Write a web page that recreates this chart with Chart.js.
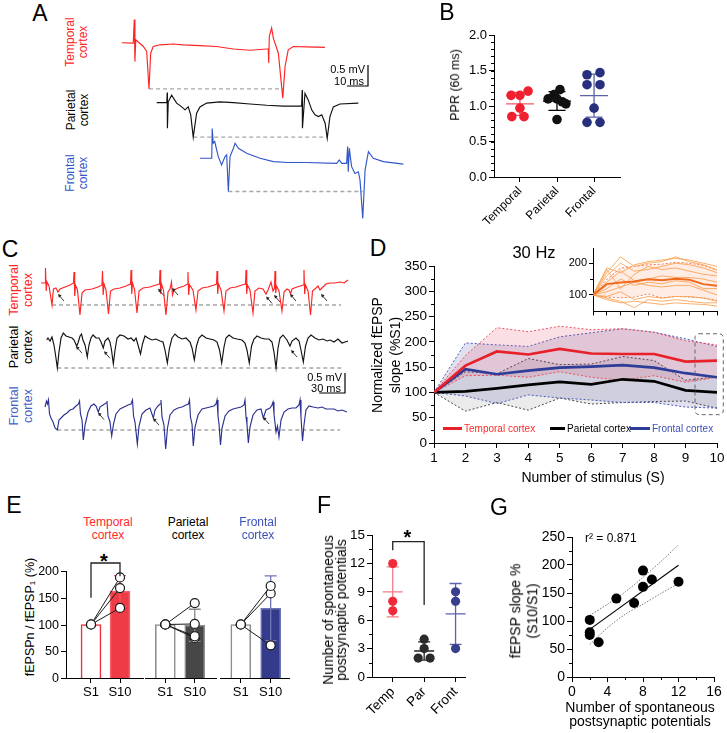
<!DOCTYPE html>
<html>
<head>
<meta charset="utf-8">
<title>Cortical fEPSP figure</title>
<script src="https://cdn.jsdelivr.net/npm/chart.js@4.4.1/dist/chart.umd.min.js"></script>
<style>
  html, body { margin: 0; padding: 0; background: #fff; }
  #fig { position: relative; width: 727px; height: 733px; overflow: hidden; background: #fff;
         font-family: "Liberation Sans", Arial, Helvetica, sans-serif; color: #000; }
  #fig canvas { position: absolute; }
  .lbl { position: absolute; white-space: nowrap; line-height: 1.1; text-align: center; }
</style>
</head>
<body>
<div id="fig"></div>
<script>
// ---------- data ----------

// Panel A: paired pulse traces, [time ms, mV]
const aTemporal = [[0,0],[5.5,-0.01],[6.0,0.55],[6.3,-0.45],[6.7,0.07],[10.3,-0.09],[11.9,-0.21],[13.0,-1.10],[13.8,-0.25],[15.0,-0.09],[18.2,-0.05],[24.6,-0.03],[29.3,-0.05],[37.3,-0.07],[45.2,-0.09],[53.1,-0.15],[61.1,-0.18],[69.0,-0.15],[69.8,-0.15],[70.0,-0.48],[70.3,0.15],[71.4,0.35],[72.2,0.11],[74.6,-0.25],[76.7,-1.32],[77.8,-0.56],[79.3,-0.17],[81.7,-0.09],[88.1,-0.10],[96.8,-0.11]];
const aParietal = [[0,0],[4.8,0],[5.0,0.24],[5.1,-0.61],[5.5,0.02],[7.1,0.18],[9.5,-0.01],[11.9,-0.1],[13.5,-0.17],[15.0,-0.1],[16.2,-0.29],[17.4,-0.82],[19.0,-0.25],[20.6,-0.1],[23.8,-0.01],[30.1,0.02],[36.5,0],[44.4,-0.03],[52.4,-0.06],[60.3,-0.08],[69.0,-0.08],[69.3,0.3],[69.4,-0.61],[70.6,0.22],[72.2,0.06],[73.8,-0.17],[75.4,-0.29],[77.0,-0.33],[78.6,-0.29],[80.2,-0.49],[81.2,-0.85],[82.5,-0.33],[84.1,-0.1],[87.3,-0.03],[96.0,-0.01]];
const aFrontal = [[0,0],[5.6,0],[5.8,0.71],[6.3,0.36],[7.0,0.4],[8.7,0.04],[10.3,-0.16],[11.9,0.04],[12.7,0.08],[13.5,-0.79],[14.3,0.04],[15.9,0.24],[16.7,0.36],[18.3,0.24],[22.2,0.12],[28.6,0],[34.9,-0.08],[42.0,-0.1],[50.0,-0.1],[65.1,-0.12],[66.3,-0.04],[67.5,-0.12],[69.8,-0.12],[70.3,0.28],[70.6,-0.32],[71.1,0.24],[72.2,-0.2],[73.8,-0.36],[75.4,-0.32],[76.2,-0.52],[77.5,-1.43],[78.6,-0.28],[80.2,0.16],[82.5,0],[87.3,-0.08],[96.8,-0.14]];

// Panel B: paired pulse ratio
const pprGroups = ['Temporal', 'Parietal', 'Frontal'];
const pprTemporal = [1.21, 1.15, 1.15, 0.97, 0.85, 0.85];
const pprParietal = [1.23, 1.16, 1.10, 1.10, 1.06, 1.03, 0.81];
const pprFrontal = [1.47, 1.44, 1.30, 1.30, 0.97, 0.77, 0.77];

// Panel C: 30 Hz trains, [time ms, mV]
const cTemporal = [[0,0],[4.7,0],
  [5.2,0.375],[6.1,-0.2],[7.0,0.025],[9.3,-0.075],[12.8,-0.55],[14.5,-0.15],[17.4,-0.125],[19.8,-0.225],[22.1,-0.15],[27.9,-0.1],[33.7,-0.05],[37.8,0],
  [38.4,0.275],[39.2,-0.325],[40.1,-0.05],[42.4,-0.175],[45.3,-0.8],[47.7,-0.25],[51.2,-0.175],[59.3,-0.15],[66.3,-0.1],[70.9,-0.05],
  [71.5,0.3],[72.3,-0.3],[73.3,-0.025],[75.6,-0.175],[78.5,-0.775],[80.8,-0.2],[84.9,-0.15],[91.9,-0.125],[98.8,-0.075],[104.1,-0.025],
  [104.7,0.325],[105.5,-0.275],[106.4,0],[108.7,-0.15],[111.6,-0.75],[114.0,-0.2],[118.6,-0.125],[126.7,-0.1],[133.7,-0.05],[137.8,-0.025],
  [138.4,0.325],[139.2,-0.275],[140.1,-0.025],[142.4,-0.175],[145.3,-0.8],[147.7,-0.225],[150.0,-0.15],[151.7,0.025],[152.9,-0.3],[154.7,-0.175],[159.3,-0.125],[166.3,-0.075],[170.4,-0.025],
  [170.9,0.275],[171.7,-0.3],[172.7,-0.05],[176.7,-0.175],[180.2,-0.675],[182.6,-0.2],[187.2,-0.125],[194.2,-0.1],[201.2,-0.05],[204.1,-0.025],
  [204.7,0.3],[205.5,-0.275],[206.4,-0.025],[209.3,-0.175],[212.8,-0.7],[215.1,-0.2],[219.8,-0.125],[226.7,-0.1],[233.7,-0.05],[237.8,-0.025],
  [238.4,0.325],[239.2,-0.275],[240.1,-0.05],[243.0,-0.175],[246.5,-0.75],[248.8,-0.2],[253.5,-0.125],[258.1,-0.15],[261.6,-0.275],[264.0,-0.175],[267.4,0.025],[269.8,-0.2],[271.5,-0.125],
  [272.1,0.3],[272.9,-0.25],[273.8,-0.075],[276.7,-0.2],[280.2,-0.7],[282.6,-0.225],[286.0,-0.15],[288.4,-0.175],[290.1,-0.275],[291.9,-0.15],[297.7,-0.1],[305.2,-0.05],
  [305.8,0.325],[306.6,-0.275],[307.6,-0.05],[310.5,-0.2],[313.4,-0.8],[315.7,-0.2],[319.8,-0.125],[322.1,-0.075],[324.4,-0.175],[326.7,-0.125],[331.4,-0.025],[336.1,0],[341.9,0],[347.7,0.025],[352.3,0],[357.0,0.075]];
const cParietal = [[6.6,0],[8.1,0.05],[10.5,-0.025],[12.8,0.075],[15.1,-0.125],[16.9,-0.375],[19.0,-0.7],[20.9,-0.3],[23.3,0.05],[25.9,0.175],[29.1,0.1],[32.6,0.075],[36.1,0.05],[38.4,0],[41.5,-0.15],[43.0,-0.075],[45.4,0.1],[47.1,0.15],[48.8,0],[51.2,-0.125],[53.8,-0.425],[55.8,-0.125],[58.1,0.05],[60.5,0.125],[64.0,0.05],[67.4,0.05],[69.8,-0.05],[72.4,-0.2],[74.4,-0.025],[77.9,0.05],[80.2,-0.05],[82.0,-0.25],[84.1,-0.6],[86.1,-0.25],[88.4,0.05],[91.9,0.125],[96.5,0.1],[101.2,0.025],[104.7,0.05],[108.1,-0.025],[110.5,0.05],[112.8,-0.125],[115.7,-0.35],[118.0,-0.1],[120.9,0.1],[124.4,0.05],[129.1,0],[133.7,0.025],[138.4,-0.025],[141.9,-0.05],[144.2,-0.25],[146.9,-0.575],[149.4,-0.2],[152.3,0.05],[155.8,0.15],[159.3,0.075],[164.0,0.025],[168.6,0.05],[173.3,-0.05],[175.6,-0.2],[178.3,-0.5],[180.8,-0.15],[183.7,0.05],[187.2,0.125],[191.9,0.05],[196.5,0.025],[201.2,0],[204.7,-0.05],[207.6,-0.25],[210.1,-0.575],[212.8,-0.175],[215.1,0.05],[218.6,0.125],[223.3,0.05],[227.9,0.025],[233.7,0],[237.2,-0.075],[239.5,-0.25],[242.2,-0.575],[244.8,-0.15],[247.7,0.025],[251.2,0.1],[255.8,0.05],[260.5,0.025],[265.1,0.025],[268.6,-0.05],[270.9,-0.3],[273.3,-0.7],[275.6,-0.2],[277.9,0.05],[281.4,0.125],[286.0,0],[289.5,-0.15],[291.9,-0.025],[296.5,0.05],[300.0,-0.025],[302.3,-0.25],[305.0,-0.55],[307.6,-0.15],[310.5,0.05],[314.0,0.125],[318.6,0.05],[323.3,0],[327.9,0.025],[332.6,-0.025],[336.1,0],[340.7,-0.05],[345.3,0.025],[350.0,-0.075],[357.0,-0.025]];
const cFrontal = [[4.7,0],[6.4,0.15],[7.6,0.075],[8.7,0.175],[9.9,-0.175],[11.6,-0.275],[14.0,-0.375],[16.3,-0.525],[19.0,-0.575],[20.9,-0.325],[23.3,-0.275],[26.7,-0.2],[30.2,-0.15],[33.7,-0.075],[37.2,-0.05],[40.7,0.025],[43.6,0.075],[44.8,0.15],[45.9,-0.175],[47.7,-0.325],[49.2,-0.825],[51.2,-0.45],[54.7,-0.125],[58.1,0.025],[61.6,0.075],[64.0,0.025],[66.6,-0.125],[68.6,0],[72.1,0.05],[75.6,0.1],[76.7,0.15],[77.9,-0.225],[80.2,-0.375],[82.2,-0.725],[84.3,-0.425],[87.2,-0.175],[91.9,-0.05],[96.5,0],[101.2,0.05],[104.7,0.075],[106.4,0.175],[107.6,-0.225],[109.3,-0.375],[112.0,-0.925],[114.0,-0.475],[117.4,-0.175],[122.1,-0.075],[126.7,-0.025],[130.6,-0.275],[132.6,-0.075],[136.0,0.025],[138.4,0.075],[139.5,0.175],[140.7,-0.25],[143.0,-0.45],[145.0,-1.05],[147.1,-0.525],[150.0,-0.2],[154.7,-0.075],[159.3,-0.025],[164.0,0],[168.6,0.05],[171.5,0.075],[172.7,0.175],[173.8,-0.25],[175.6,-0.425],[177.1,-0.975],[179.1,-0.5],[182.6,-0.2],[187.2,-0.05],[191.9,-0.025],[196.5,0],[201.2,0.025],[203.5,0.075],[204.7,0.175],[205.8,-0.225],[207.0,-0.425],[208.7,-0.95],[210.5,-0.525],[214.0,-0.225],[218.6,-0.1],[223.3,-0.05],[227.9,-0.025],[232.6,0],[236.0,0.05],[237.2,0.175],[238.4,-0.25],[239.5,-0.425],[241.1,-0.9],[243.0,-0.5],[246.5,-0.2],[251.2,-0.075],[255.8,-0.05],[258.5,-0.275],[261.6,-0.075],[266.3,-0.025],[268.6,0.05],[269.8,0.125],[270.9,-0.175],[273.3,-0.625],[275.0,-0.475],[276.7,-0.75],[279.1,-0.325],[282.6,-0.125],[287.2,-0.05],[291.9,-0.025],[296.5,-0.025],[300.0,0.05],[301.2,0.175],[302.3,-0.25],[304.1,-0.85],[305.8,-0.45],[308.1,-0.075],[311.6,0.025],[316.3,0],[322.1,-0.025],[326.7,0],[331.4,-0.05],[336.1,-0.05],[340.7,-0.05],[345.3,-0.1],[350.0,-0.075],[355.8,-0.125]];
// spontaneous potentials marked with arrows (ms)
const cTemporalArrows = [18.6, 134.9, 151.2, 260.5, 269.8, 288.4, 324.4];
const cParietalArrows = [39.5, 72.1, 289.5];
const cFrontalArrows = [65.1, 129.1, 257.0];

// Panel D: normalized fEPSP slope (%S1), mean and +/- SD
const stimN = [1, 2, 3, 4, 5, 6, 7, 8, 9, 10];
const tempMean = [100, 153, 181, 175, 186, 177, 176, 176, 161, 163];
const tempUpper = [100, 173, 228, 220, 231, 224, 226, 219, 202, 194];
const tempLower = [100, 133, 134, 130, 141, 130, 124, 133, 120, 130];
const parMean = [100, 102, 108, 115, 121, 116, 126, 122, 104, 100];
const parUpper = [100, 141, 137, 167, 155, 156, 171, 163, 124, 131];
const parLower = [100, 63, 80, 65, 89, 77, 80, 82, 83, 69];
const frontMean = [100, 146, 136, 143, 149, 151, 154, 149, 138, 130];
const frontUpper = [100, 198, 194, 191, 210, 218, 226, 219, 206, 191];
const frontLower = [100, 93, 78, 95, 89, 85, 80, 80, 71, 69];
// inset: individual temporal slices
const insetMean = [100, 134, 139, 142, 149, 146, 151, 148, 134, 129];
const insetUpper = [100, 149, 185, 190, 195, 197, 203, 200, 193, 177];
const insetLower = [100, 93, 91, 93, 103, 91, 95, 93, 91, 83];
const insetSlices = [
  [100, 185, 170, 195, 205, 210, 215, 210, 200, 190],
  [100, 170, 220, 190, 200, 205, 220, 205, 195, 180],
  [100, 160, 200, 175, 180, 190, 200, 195, 185, 170],
  [100, 180, 120, 165, 190, 180, 185, 175, 165, 160],
  [100, 140, 175, 145, 150, 160, 155, 155, 150, 140],
  [100, 120, 150, 130, 140, 135, 145, 140, 120, 120],
  [100, 110, 125, 140, 130, 125, 130, 130, 115, 100],
  [100, 95, 110, 85, 95, 90, 95, 95, 90, 80],
  [100, 90, 80, 60, 85, 80, 85, 80, 75, 75],
  [100, 85, 75, 80, 75, 70, 75, 72, 70, 65],
];
const boxStim = [9.3, 10.2];
const boxSlope = [56, 216];

// Panel E: fEPSPn / fEPSP1 (%)
const eTicks = ['S1', 'S10'];
const eYTicks = [0, 50, 100, 150, 200];
const eTemporalS1 = [100, 100, 100];
const eTemporalS10 = [188, 168, 131];
const eParietalS1 = [100, 100, 100, 100];
const eParietalS10 = [140, 101, 78, 75];
const eFrontalS1 = [100, 100, 100];
const eFrontalS10 = [172, 158, 61];

// Panel F: spontaneous postsynaptic potentials
const fGroups = ['Temp', 'Par', 'Front'];
const fTemp = [12, 8, 7];
const fPar = [4, 3, 2, 2];
const fFront = [9, 8, 3];

// Panel G: correlation
const gSpont = [2, 2, 2, 3, 5, 7, 8, 8, 9, 12];
const gSlope = [102, 80, 75, 62, 140, 132, 190, 161, 174, 170];
const gCiX = [2, 4, 6, 8, 10, 12];
const gCiUpper = [110, 130, 152, 178, 206, 236];
const gCiLower = [58, 88, 112, 130, 149, 167];

// ---------- helpers ----------
const FONT = '"Liberation Sans", Arial, Helvetica, sans-serif';
Chart.defaults.font.family = FONT;
Chart.defaults.color = '#000';

const fig = document.getElementById('fig');

function addCanvas(left, top, w, h) {
  const c = document.createElement('canvas');
  c.width = w; c.height = h;
  c.style.left = left + 'px'; c.style.top = top + 'px';
  c.style.width = w + 'px'; c.style.height = h + 'px';
  fig.appendChild(c);
  return c;
}

function addText(html, x, y, o = {}) {
  const d = document.createElement('div');
  d.className = 'lbl';
  d.innerHTML = html;
  d.style.left = x + 'px';
  d.style.top = y + 'px';
  d.style.fontSize = (o.size || 12) + 'px';
  if (o.color) d.style.color = o.color;
  if (o.lh) d.style.lineHeight = o.lh;
  if (o.bold) d.style.fontWeight = 'bold';
  if (o.z) d.style.zIndex = o.z;
  const ax = o.align === 'left' ? '0' : o.align === 'right' ? '-100%' : '-50%';
  d.style.transform = `translate(${ax}, -50%)` + (o.rot ? ' rotate(-90deg)' : '');
  fig.appendChild(d);
}

function addRule(x, y, w, h) {
  const d = document.createElement('div');
  d.style.cssText = `position:absolute;left:${x}px;top:${y}px;width:${w}px;height:${h}px;background:#000;z-index:20;`;
  fig.appendChild(d);
}

const avg = a => a.reduce((s, v) => s + v, 0) / a.length;
const sdev = a => { const m = avg(a); return Math.sqrt(a.reduce((s, v) => s + (v - m) ** 2, 0) / (a.length - 1)); };

function valueAxis(min, max, step, o) {
  const ax = {
    type: 'linear', min, max,
    border: { display: true, color: '#000', width: 1 },
    grid: { display: true, drawOnChartArea: false, drawTicks: true, tickLength: o.tick ?? 5, tickColor: '#000', offset: false },
    ticks: { stepSize: step, font: { size: o.fs || 13 }, color: '#000', padding: o.pad ?? 2, autoSkip: false,
             maxRotation: o.rotate || 0, minRotation: o.rotate || 0, display: o.labels !== false },
    afterFit: s => { if (o.w !== undefined) s.width = o.w; if (o.h !== undefined) s.height = o.h; },
  };
  if (o.fmt) ax.ticks.callback = o.fmt;
  if (o.at) ax.afterBuildTicks = s => { s.ticks = o.at.map(v => ({ value: v })); };
  return ax;
}

function baseOptions(pad, scales, plugins) {
  return {
    responsive: false, animation: false, devicePixelRatio: 1,
    layout: { padding: pad },
    scales,
    plugins: Object.assign({ legend: { display: false }, tooltip: { enabled: false } }, plugins || {}),
  };
}

// small tick marks between the labelled ones
const minorTicks = {
  id: 'minorTicks',
  afterDraw(chart, args, opts) {
    const ctx = chart.ctx;
    ctx.save();
    ctx.strokeStyle = '#000';
    ctx.lineWidth = 1;
    (opts.list || []).forEach(m => {
      const s = chart.scales[m.axis];
      const n = Math.round((m.to - m.from) / m.step);
      for (let i = 0; i <= n; i++) {
        const p = Math.round(s.getPixelForValue(m.from + i * m.step)) + 0.5;
        ctx.beginPath();
        if (s.isHorizontal()) { ctx.moveTo(p, s.top); ctx.lineTo(p, s.top + m.len); }
        else { ctx.moveTo(s.right, p); ctx.lineTo(s.right - m.len, p); }
        ctx.stroke();
      }
    });
    ctx.restore();
  }
};

// mean +/- SD bars for dot plots
function meanSdPlugin(groups, colors, meanW, capW) {
  return {
    id: 'meanSd',
    beforeDatasetsDraw(chart) {
      const { ctx } = chart;
      const { x, y } = chart.scales;
      groups.forEach((vals, g) => {
        const m = avg(vals), s = sdev(vals);
        const px = x.getPixelForValue(g + 1);
        ctx.save();
        ctx.strokeStyle = colors[g];
        ctx.lineWidth = 1.3;
        ctx.beginPath();
        ctx.moveTo(px, y.getPixelForValue(m - s)); ctx.lineTo(px, y.getPixelForValue(m + s));
        [m - s, m + s].forEach(v => { const py = y.getPixelForValue(v); ctx.moveTo(px - capW / 2, py); ctx.lineTo(px + capW / 2, py); });
        const pm = y.getPixelForValue(m);
        ctx.moveTo(px - meanW / 2, pm); ctx.lineTo(px + meanW / 2, pm);
        ctx.stroke();
        ctx.restore();
      });
    }
  };
}

// significance bracket, drawn in data units
function bracketPlugin(xs, yLeft, yTop, yRight) {
  return {
    id: 'bracket',
    afterDraw(chart) {
      const { ctx } = chart;
      const { x, y } = chart.scales;
      const x1 = x.getPixelForValue(xs[0]), x2 = x.getPixelForValue(xs[1]);
      ctx.save();
      ctx.strokeStyle = '#222';
      ctx.lineWidth = 1.3;
      ctx.beginPath();
      ctx.moveTo(x1, y.getPixelForValue(yLeft));
      ctx.lineTo(x1, y.getPixelForValue(yTop));
      ctx.lineTo(x2, y.getPixelForValue(yTop));
      ctx.lineTo(x2, y.getPixelForValue(yRight));
      ctx.stroke();
      ctx.restore();
    }
  };
}

// L-shaped scale bar for the traces
const scaleBar = {
  id: 'scaleBar',
  afterDraw(chart, args, o) {
    if (!o.corner) return;
    const { ctx } = chart;
    const { x, y } = chart.scales;
    const w = x.getPixelForValue(o.ms) - x.getPixelForValue(0);
    const h = y.getPixelForValue(0) - y.getPixelForValue(o.mv);
    const [cx, cy] = o.corner;
    ctx.save();
    ctx.strokeStyle = '#000';
    ctx.lineWidth = 1.2;
    ctx.beginPath();
    ctx.moveTo(cx - w, cy); ctx.lineTo(cx, cy); ctx.lineTo(cx, cy - h);
    ctx.stroke();
    ctx.restore();
  }
};

// arrows pointing at spontaneous potentials
function interp(pts, t) {
  for (let i = 1; i < pts.length; i++) {
    if (pts[i].x >= t) {
      const a = pts[i - 1], b = pts[i];
      return a.y + (b.y - a.y) * (t - a.x) / (b.x - a.x);
    }
  }
  return pts[pts.length - 1].y;
}
const arrows = {
  id: 'arrows',
  afterDatasetsDraw(chart, args, o) {
    const { ctx } = chart;
    const { x, y } = chart.scales;
    ctx.save();
    ctx.strokeStyle = '#222';
    ctx.fillStyle = '#222';
    ctx.lineWidth = 0.9;
    (o.list || []).forEach(item => {
      const pts = chart.data.datasets[item.ds].data;
      item.times.forEach(t => {
        const px = x.getPixelForValue(t), py = y.getPixelForValue(interp(pts, t));
        const tx = px + 1, ty = py + 4;
        ctx.beginPath(); ctx.moveTo(tx + 6, ty + 7); ctx.lineTo(tx + 1.5, ty + 1.8); ctx.stroke();
        ctx.beginPath(); ctx.moveTo(tx, ty); ctx.lineTo(tx + 3.6, ty + 1.2); ctx.lineTo(tx + 1, ty + 3.8); ctx.closePath(); ctx.fill();
      });
    });
    ctx.restore();
  }
};

const minPt = pts => pts.reduce((m, p) => (p.y < m.y ? p : m), pts[0]);

function traceChart(rect, pxPerMs, pxPerMv, x0, traces, refFn, plugOpts) {
  const cv = addCanvas(...rect);
  const datasets = [];
  traces.forEach(tr => {
    const pts = tr.data.map(p => ({ x: p[0] + tr.dt, y: p[1] + tr.dv }));
    datasets.push({ data: pts, borderColor: tr.color, borderWidth: 1.15, pointRadius: 0 });
    datasets.push({ data: refFn(pts), borderColor: '#a6a6a6', borderWidth: 1.3, borderDash: [4, 3], pointRadius: 0 });
  });
  new Chart(cv, {
    type: 'line',
    data: { datasets },
    options: baseOptions(0, {
      x: { type: 'linear', display: false, min: x0, max: x0 + rect[2] / pxPerMs },
      y: { type: 'linear', display: false, min: -rect[3] / pxPerMv, max: 0 },
    }, plugOpts),
    plugins: [scaleBar, arrows],
  });
}

const RED = '#ff2424', BLUE_A = '#3157c9', NAVY = '#2c3190';

// ---------- Panel A ----------
traceChart([110, 0, 320, 230], 2.1, 42, 0, [
  { data: aTemporal, color: RED, dt: 5.57, dv: -1.017 },
  { data: aParietal, color: '#111', dt: 22.24, dv: -2.445 },
  { data: aFrontal, color: BLUE_A, dt: 42.86, dv: -3.769 },
], pts => {
  const split = pts[0].x + 40;
  const first = minPt(pts.filter(p => p.x < split));
  const second = minPt(pts.filter(p => p.x >= split));
  return [{ x: first.x, y: first.y }, { x: second.x, y: first.y }];
}, { scaleBar: { corner: [258, 86], ms: 10, mv: 0.5 } });

addText('A', 40, 14, { size: 23 });
addText('Temporal<br>cortex', 77, 42, { size: 12, color: RED, rot: true });
addText('Parietal<br>cortex', 78, 110, { size: 12, rot: true });
addText('Frontal<br>cortex', 77, 173, { size: 12, color: BLUE_A, rot: true });
addText('0.5 mV', 365, 69, { size: 11, align: 'right' });
addText('10 ms', 364, 80.5, { size: 11, align: 'right' });

// ---------- Panel C ----------
traceChart([40, 255, 312, 200], 0.86, 40, -1.163, [
  { data: cTemporal, color: RED, dt: 0, dv: -0.7 },
  { data: cParietal, color: '#111', dt: 0, dv: -2.125 },
  { data: cFrontal, color: NAVY, dt: 0, dv: -3.8 },
], pts => {
  const first = minPt(pts.filter(p => p.x < pts[0].x + 25));
  return [{ x: first.x, y: first.y }, { x: pts[pts.length - 1].x - 8, y: first.y }];
}, {
  scaleBar: { corner: [305, 138], ms: 30, mv: 0.5 },
  arrows: { list: [
    { ds: 0, times: cTemporalArrows },
    { ds: 2, times: cParietalArrows },
    { ds: 4, times: cFrontalArrows },
  ] },
});

addText('C', 10, 250, { size: 23 });
addText('Temporal<br>cortex', 22, 290, { size: 12.5, color: RED, rot: true });
addText('Parietal<br>cortex', 22, 347, { size: 12.5, rot: true });
addText('Frontal<br>cortex', 22, 406, { size: 12.5, color: '#4561c4', rot: true });
addText('0.5 mV', 342, 377, { size: 11, align: 'right' });
addText('30 ms', 341, 387.5, { size: 11, align: 'right' });

// ---------- Panel B ----------
(function () {
  const cv = addCanvas(460, 25, 180, 205);
  const groups = [pprTemporal, pprParietal, pprFrontal];
  const jitter = [
    [0.22, -0.24, 0, 0, -0.22, 0.11],
    [0.08, -0.08, -0.24, 0, 0.14, 0.24, 0],
    [0.16, -0.19, -0.19, 0.16, 0, -0.19, 0.16],
  ];
  const dot = ['#ef2030', '#111', '#27307c'];
  const datasets = groups.map((vals, g) => ({
    data: vals.map((v, i) => ({ x: g + 1 + jitter[g][i], y: v })),
    pointRadius: 4.8, pointBackgroundColor: dot[g], pointBorderColor: dot[g], pointBorderWidth: 0,
  }));
  new Chart(cv, {
    type: 'scatter',
    data: { datasets },
    options: baseOptions({ top: 10, right: 20, left: 0, bottom: 0 }, {
      x: valueAxis(0.3, 3.7, 1, { fs: 12, h: 53, at: [1, 2, 3], rotate: 45, fmt: v => pprGroups[v - 1] }),
      y: valueAxis(0, 2, 0.5, { fs: 13, w: 34, fmt: v => v.toFixed(1) }),
    }, { minorTicks: { list: [{ axis: 'y', from: 0, to: 2, step: 0.1, len: 3 }] } }),
    plugins: [minorTicks, meanSdPlugin(groups, ['#f25a63', '#000', '#5a62a8'], 28, 17)],
  });
  addText('B', 447, 13, { size: 23 });
  addText('PPR (60 ms)', 456, 85, { size: 12.5, rot: true });
})();

// ---------- Panel D ----------
(function () {
  const cv = addCanvas(400, 255, 327, 215);
  const xy = arr => stimN.map((n, i) => ({ x: n, y: arr[i] }));
  const mean = (arr, col) => ({ data: xy(arr), borderColor: col, borderWidth: 2.7, pointRadius: 0 });
  const band = (arr, col, fillCol) => ({
    data: xy(arr), borderColor: col, borderWidth: 1, borderDash: [2, 2], pointRadius: 0,
    fill: fillCol ? '+1' : false, backgroundColor: fillCol || 'transparent',
  });
  const datasets = [
    mean(tempMean, '#e8202a'), mean(frontMean, '#2e3d98'), mean(parMean, '#000'),
    band(tempUpper, '#ef5060', 'rgba(225, 60, 85, 0.16)'), band(tempLower, '#ef5060'),
    band(frontUpper, '#4d5cc0', 'rgba(60, 60, 150, 0.16)'), band(frontLower, '#4d5cc0'),
    band(parUpper, '#444', 'rgba(110, 110, 110, 0.14)'), band(parLower, '#444'),
  ];
  const box = {
    id: 'box',
    afterDatasetsDraw(chart) {
      const { ctx } = chart;
      const { x, y } = chart.scales;
      const l = x.getPixelForValue(boxStim[0]), r = x.getPixelForValue(boxStim[1]);
      const t = y.getPixelForValue(boxSlope[1]), b = y.getPixelForValue(boxSlope[0]);
      ctx.save();
      ctx.setLineDash([4, 3]);
      ctx.strokeStyle = '#666';
      ctx.lineWidth = 1;
      ctx.beginPath();
      ctx.roundRect(l, t, r - l, b - t, 4);
      ctx.stroke();
      ctx.restore();
    }
  };
  new Chart(cv, {
    type: 'line',
    data: { datasets },
    options: baseOptions({ top: 11, right: 10, left: 0, bottom: 0 }, {
      x: valueAxis(1, 10, 1, { fs: 13.5, h: 27 }),
      y: valueAxis(0, 350, 50, { fs: 13.5, w: 34 }),
    }, { minorTicks: { list: [{ axis: 'y', from: 25, to: 325, step: 50, len: 3 }] } }),
    plugins: [minorTicks, box],
  });

  // inset
  const iv = addCanvas(560, 240, 167, 80);
  const ids = [
    { data: xy(insetMean), borderColor: '#f06a1e', borderWidth: 2, pointRadius: 0 },
    ...insetSlices.map(s => ({ data: xy(s), borderColor: 'rgba(250, 160, 80, 0.85)', borderWidth: 1, pointRadius: 0 })),
    { data: xy(insetUpper), borderColor: '#f07a55', borderWidth: 1, borderDash: [2, 2], pointRadius: 0, fill: '+1', backgroundColor: 'rgba(250, 185, 160, 0.28)' },
    { data: xy(insetLower), borderColor: '#f07a55', borderWidth: 1, borderDash: [2, 2], pointRadius: 0 },
  ];
  new Chart(iv, {
    type: 'line',
    data: { datasets: ids },
    options: baseOptions({ top: 7, right: 10, left: 0, bottom: 0 }, {
      x: valueAxis(1, 10, 1, { h: 7, labels: false, tick: 4 }),
      y: valueAxis(48, 246, 50, { fs: 11, w: 33, at: [100, 200], tick: 4 }),
    }, { minorTicks: { list: [{ axis: 'y', from: 150, to: 150, step: 50, len: 3 }] } }),
    plugins: [minorTicks],
  });

  addText('D', 378, 249, { size: 23 });
  addText('30 Hz', 534, 252, { size: 16.5 });
  addText('Normalized fEPSP<br>slope (%S1)', 386, 355, { size: 14, rot: true, lh: 1.3 });
  addText('Number of stimulus (S)', 593, 478, { size: 14 });
  // legend
  const leg = [
    { x: 443, w: 19, text: 'Temporal cortex', col: '#e8202a', tcol: '#ff2a2a' },
    { x: 550, w: 15, text: 'Parietal cortex', col: '#000', tcol: '#000' },
    { x: 630, w: 20, text: 'Frontal cortex', col: '#2e3d98', tcol: '#3c50b8' },
  ];
  leg.forEach(l => {
    const d = document.createElement('div');
    d.style.cssText = `position:absolute;left:${l.x}px;top:426.5px;width:${l.w}px;height:3px;background:${l.col};`;
    fig.appendChild(d);
    addText(l.text, l.x + l.w + 2, 428, { size: 10, color: l.tcol, align: 'left' });
  });
})();

// ---------- Panel F ----------
(function () {
  const cv = addCanvas(345, 525, 125, 200);
  const groups = [fTemp, fPar, fFront];
  const jitter = [[0, 0, 0], [0, 0, -0.19, 0.19], [0, 0, 0]];
  const dot = ['#ef2a3a', '#2a2a2a', '#383f8c'];
  const datasets = groups.map((vals, g) => ({
    data: vals.map((v, i) => ({ x: g + 1 + jitter[g][i], y: v })),
    pointRadius: 4.6, pointBackgroundColor: dot[g], pointBorderColor: dot[g], pointBorderWidth: 0,
  }));
  new Chart(cv, {
    type: 'scatter',
    data: { datasets },
    options: baseOptions({ top: 10, right: 5, left: 0, bottom: 0 }, {
      x: valueAxis(0.34, 3.3, 1, { fs: 13.5, h: 48, at: [1, 2, 3], rotate: 45, fmt: v => fGroups[v - 1] }),
      y: valueAxis(0, 15, 3, { fs: 13.5, w: 27 }),
    }, { minorTicks: { list: [{ axis: 'y', from: 1.5, to: 13.5, step: 3, len: 3 }] } }),
    plugins: [minorTicks, meanSdPlugin(groups, ['#f27c84', '#222', '#5c62aa'], 20, 12), bracketPlugin([1, 2], 13.4, 14.3, 7.6)],
  });
  addText('F', 324, 506, { size: 23 });
  addText('Number of spontaneous<br>postsynaptic potentials', 334.5, 610, { size: 14, rot: true, lh: 0.93 });
  addText('*', 407.5, 536.5, { size: 20, bold: true });
})();

// ---------- Panel G ----------
(function () {
  const cv = addCanvas(530, 525, 197, 180);
  // least squares line through the points
  const mx = avg(gSpont), my = avg(gSlope);
  let sxy = 0, sxx = 0;
  gSpont.forEach((x, i) => { sxy += (x - mx) * (gSlope[i] - my); sxx += (x - mx) ** 2; });
  const slope = sxy / sxx, icpt = my - slope * mx;
  const x1 = Math.min(...gSpont), x2 = Math.max(...gSpont);
  const datasets = [
    { data: gSpont.map((x, i) => ({ x, y: gSlope[i] })), showLine: false, pointRadius: 5, pointBackgroundColor: '#000', pointBorderColor: '#000', pointBorderWidth: 0 },
    { data: [{ x: x1, y: icpt + slope * x1 }, { x: x2, y: icpt + slope * x2 }], borderColor: '#000', borderWidth: 1.1, pointRadius: 0 },
    { data: gCiX.map((x, i) => ({ x, y: gCiUpper[i] })), borderColor: '#777', borderWidth: 1, borderDash: [1.5, 1.5], pointRadius: 0, tension: 0.3 },
    { data: gCiX.map((x, i) => ({ x, y: gCiLower[i] })), borderColor: '#777', borderWidth: 1, borderDash: [1.5, 1.5], pointRadius: 0, tension: 0.3 },
  ];
  new Chart(cv, {
    type: 'line',
    data: { datasets },
    options: baseOptions({ top: 12, right: 13, left: 0, bottom: 0 }, {
      x: valueAxis(0, 16, 4, { fs: 14, h: 28 }),
      y: valueAxis(0, 250, 50, { fs: 14, w: 42 }),
    }, { minorTicks: { list: [
      { axis: 'y', from: 25, to: 225, step: 50, len: 3 },
      { axis: 'x', from: 2, to: 14, step: 4, len: 3 },
    ] } }),
    plugins: [minorTicks],
  });
  addText('G', 499, 508, { size: 23 });
  addText('r² = 0.871', 585, 539, { size: 12, align: 'left' });
  addText('fEPSP slope %<br>(S10/S1)', 523.5, 611, { size: 14, rot: true, lh: 1.2 });
  addText('Number of spontaneous<br>postsynaptic potentials', 640, 714.5, { size: 14, lh: 1.07 });
})();

// ---------- Panel E ----------
function panelE(rect, pad, xr, s1, s10, st, showY) {
  const cv = addCanvas(...rect);
  cv.style.zIndex = 5;
  const m1 = avg(s1), m10 = avg(s10), sd10 = sdev(s10);
  const datasets = s10.map((v, i) => ({
    type: 'line', data: [{ x: 1, y: s1[i] }, { x: 2, y: v }],
    borderColor: '#1a1a1a', borderWidth: 1, pointRadius: 4.5,
    pointBackgroundColor: '#fff', pointBorderColor: '#1a1a1a', pointBorderWidth: 1.2,
  }));
  datasets.push({
    type: 'bar', data: [{ x: 1, y: m1 }, { x: 2, y: m10 }],
    backgroundColor: ['#fff', st.fill], borderColor: [st.s1Border, st.s10Border],
    borderWidth: 1.6, barThickness: 20,
  });
  const whisker = {
    id: 'whisker',
    afterDatasetDraw(chart, args) {
      if (args.meta.type !== 'bar') return;
      const { ctx } = chart;
      const { x, y } = chart.scales;
      const px = x.getPixelForValue(2);
      ctx.save();
      ctx.strokeStyle = st.err;
      ctx.lineWidth = 1.3;
      ctx.beginPath();
      ctx.moveTo(px, y.getPixelForValue(m10 - sd10)); ctx.lineTo(px, y.getPixelForValue(m10 + sd10));
      [m10 - sd10, m10 + sd10].forEach(v => { const py = y.getPixelForValue(v); ctx.moveTo(px - 6, py); ctx.lineTo(px + 6, py); });
      ctx.stroke();
      ctx.restore();
    }
  };
  const xAxis = valueAxis(xr[0], xr[1], 1, { fs: 13, h: 27, at: [1, 2], fmt: v => eTicks[v - 1] });
  xAxis.offset = false;
  const yAxis = { type: 'linear', min: 0, max: 200, display: false };
  const plugins = [whisker];
  if (st.bracket) plugins.push(bracketPlugin([1, 2], 150, 215, 190));
  const chart = new Chart(cv, {
    type: 'bar',
    data: { datasets },
    options: baseOptions(pad, { x: xAxis, y: yAxis }),
    plugins,
  });
  if (showY) {
    // y axis placed from the chart's own scale, as page elements
    const y = chart.scales.y;
    const ax = rect[0] + Math.round(chart.chartArea.left);
    const top = rect[1] + Math.round(y.getPixelForValue(y.max));
    const bottom = rect[1] + Math.round(y.getPixelForValue(y.min));
    addRule(ax, top, 1, bottom - top + 1);
    eYTicks.forEach(v => {
      const py = rect[1] + Math.round(y.getPixelForValue(v));
      addRule(ax - 5, py, 5, 1);
      addText(String(v), ax - 7, py + 0.5, { size: 12.5, align: 'right', z: 20 });
    });
  }
}

panelE([20, 540, 130, 165], { top: 31, right: 7, left: 46, bottom: 0 }, [0.138, 2.793], eTemporalS1, eTemporalS10,
  { fill: '#ef3b46', s1Border: '#f0303c', s10Border: '#f2606a', err: '#f25a62', bracket: true }, true);
panelE([140, 540, 82, 165], { top: 31, right: 5, left: 5, bottom: 0 }, [0.333, 2.733], eParietalS1, eParietalS10,
  { fill: '#474747', s1Border: '#8f8f8f', s10Border: '#8f8f8f', err: '#8a8a8a' }, false);
panelE([215, 540, 80, 165], { top: 31, right: 5, left: 5, bottom: 0 }, [0.328, 2.623], eFrontalS1, eFrontalS10,
  { fill: '#343b8a', s1Border: '#8f8f8f', s10Border: '#6e74b4', err: '#6e74b4' }, false);

addText('E', 14, 506, { size: 23 });
addText('Temporal<br>cortex', 108, 528.5, { size: 12, color: '#ff2a2a' });
addText('Parietal<br>cortex', 188, 528.5, { size: 12 });
addText('Frontal<br>cortex', 258, 528.5, { size: 12, color: '#3c50b8' });
addText('fEPSPn / fEPSP<sub style="font-size:0.65em;vertical-align:-0.15em">1</sub> (%)', 31, 617, { size: 12.5, rot: true });
addText('*', 104, 560.5, { size: 20, bold: true });
</script>
</body>
</html>
